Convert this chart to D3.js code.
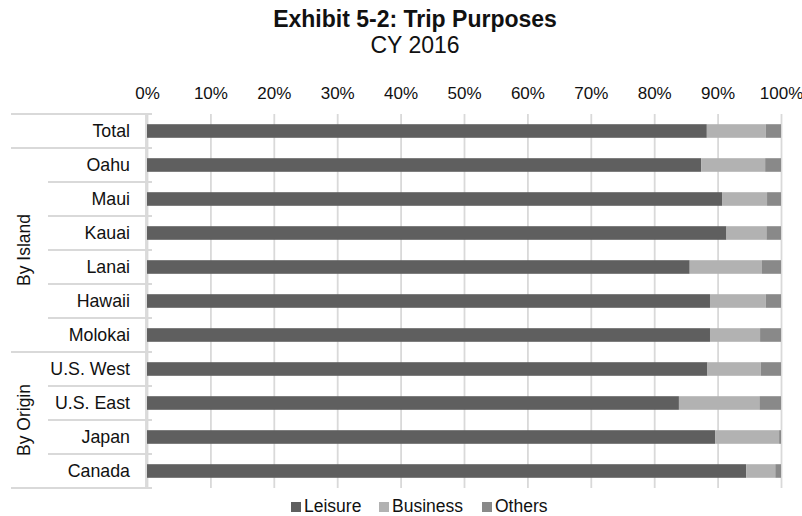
<!DOCTYPE html>
<html>
<head>
<meta charset="utf-8">
<script src="https://cdn.jsdelivr.net/npm/d3@7/dist/d3.min.js"></script>
<style>
  html, body { margin: 0; padding: 0; background: #fff; }
  text { font-family: "Liberation Sans", Arial, sans-serif; fill: #111; }
</style>
</head>
<body>
<svg id="chart" width="802" height="516"></svg>
<script>
// Trip purpose shares (%), CY 2016
const categories = ["Total", "Oahu", "Maui", "Kauai", "Lanai", "Hawaii", "Molokai",
                    "U.S. West", "U.S. East", "Japan", "Canada"];
const leisure  = [88.3, 87.4, 90.7, 91.4, 85.6, 88.8, 88.8, 88.4, 83.9, 89.6, 94.5];
const business = [ 9.3, 10.1,  7.1,  6.3, 11.4,  8.8,  7.9,  8.4, 12.7, 10.1,  4.6];
const others   = [ 2.4,  2.5,  2.2,  2.3,  3.0,  2.4,  3.3,  3.2,  3.4,  0.3,  0.9];
const seriesNames = ["Leisure", "Business", "Others"];
const tickValues = [0, 10, 20, 30, 40, 50, 60, 70, 80, 90, 100];
// Category groups shown at the left margin
const groups = [
  { label: "", from: "Total", to: "Total" },
  { label: "By Island", from: "Oahu", to: "Molokai" },
  { label: "By Origin", from: "U.S. West", to: "Canada" }
];

const colors = { Leisure: "#5f5f5f", Business: "#b2b2b2", Others: "#898989" };
const gridColor = "#d9d9d9";

const svg = d3.select("#chart");
const plot = { left: 147, right: 781, top: 114, bottom: 488 };

const x = d3.scaleLinear().domain([0, 100]).range([plot.left, plot.right]);
const y = d3.scaleBand().domain(categories).range([plot.top, plot.bottom])
  .paddingInner(0.6).paddingOuter(0.3);
const step = y.step();
const bandTop = c => y(c) - y.step() * y.paddingInner() / 2;

// Titles
svg.append("text").attr("x", 415).attr("y", 27).attr("text-anchor", "middle")
  .style("font-size", "23px").style("font-weight", "bold").text("Exhibit 5-2: Trip Purposes");
svg.append("text").attr("x", 415).attr("y", 53).attr("text-anchor", "middle")
  .style("font-size", "23px").text("CY 2016");

// Vertical gridlines and top percentage labels
const xAxis = d3.axisTop(x).tickValues(tickValues).tickFormat(d => d + "%")
  .tickSize(-(plot.bottom - plot.top)).tickPadding(15);
const gx = svg.append("g").attr("transform", `translate(0,${plot.top})`).call(xAxis);
gx.select(".domain").remove();
gx.selectAll(".tick line").attr("stroke", gridColor).attr("stroke-width", 1.8);
gx.selectAll(".tick text").style("font-size", "17px").attr("fill", "#111");

// Stacked bars
const rows = categories.map((c, i) => ({ cat: c, Leisure: leisure[i], Business: business[i], Others: others[i] }));
const stack = d3.stack().keys(seriesNames)(rows);
svg.append("g").selectAll("g").data(stack).join("g")
  .attr("fill", d => colors[d.key])
  .selectAll("rect").data(d => d).join("rect")
  .attr("x", d => x(d[0]))
  .attr("width", d => x(d[1]) - x(d[0]))
  .attr("y", d => y(d.data.cat))
  .attr("height", y.bandwidth());

// Category axis: spine, row separators and labels
const ga = svg.append("g");
ga.append("line").attr("x1", plot.left - 1).attr("x2", plot.left - 1)
  .attr("y1", plot.top).attr("y2", plot.bottom)
  .attr("stroke", gridColor).attr("stroke-width", 1.8);

const groupEdges = new Set(groups.map(g => g.from));
categories.forEach(c => {
  const yy = bandTop(c);
  ga.append("line").attr("x1", groupEdges.has(c) ? 11 : 48).attr("x2", plot.left + 5)
    .attr("y1", yy).attr("y2", yy).attr("stroke", gridColor).attr("stroke-width", 1.8);
});
ga.append("line").attr("x1", 11).attr("x2", plot.left + 5)
  .attr("y1", plot.bottom).attr("y2", plot.bottom).attr("stroke", gridColor).attr("stroke-width", 1.8);

ga.selectAll("text.cat").data(categories).join("text").attr("class", "cat")
  .attr("x", 130).attr("y", d => y(d) + y.bandwidth() / 2 + 6)
  .attr("text-anchor", "end").style("font-size", "17.8px").text(d => d);

groups.filter(g => g.label).forEach(g => {
  const y0 = bandTop(g.from), y1 = bandTop(g.to) + step;
  const cy = (y0 + y1) / 2;
  svg.append("text").attr("transform", `translate(29.5,${cy}) rotate(-90)`)
    .attr("text-anchor", "middle").style("font-size", "17.5px").text(g.label);
});

// Legend
const legendX = [291, 379, 482];
const lg = svg.append("g");
seriesNames.forEach((s, i) => {
  lg.append("rect").attr("x", legendX[i]).attr("y", 502).attr("width", 10).attr("height", 10)
    .attr("fill", colors[s]);
  lg.append("text").attr("x", legendX[i] + 13).attr("y", 512)
    .style("font-size", "17.5px").text(s);
});
</script>
</body>
</html>
